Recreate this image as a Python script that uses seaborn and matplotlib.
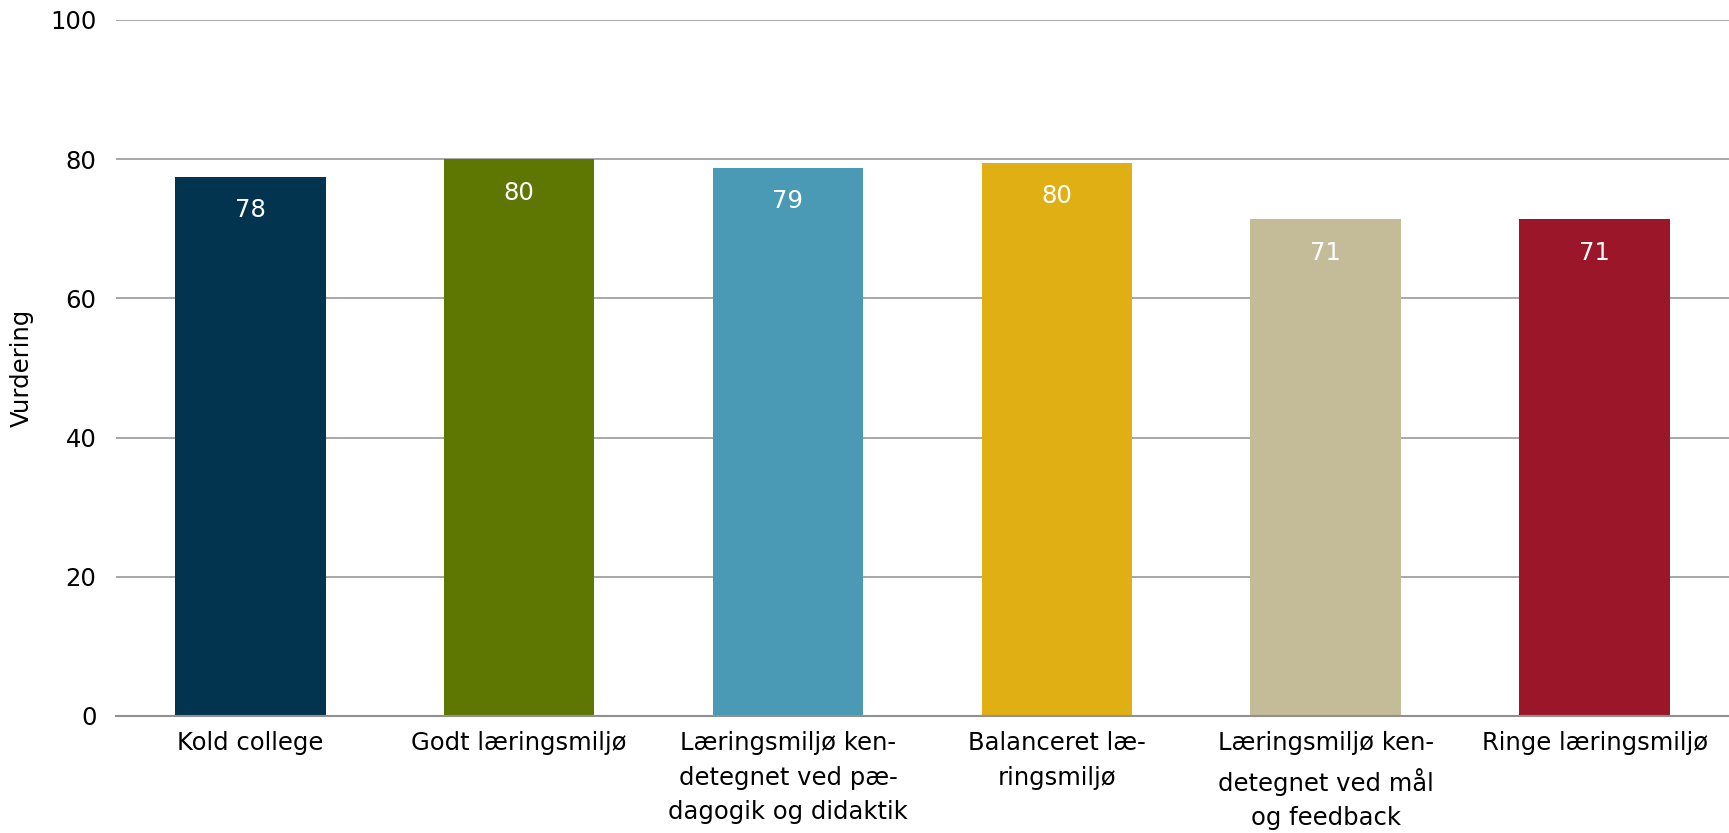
import numpy as np
import matplotlib.pyplot as plt
import seaborn as sns
import pandas as pd

# data
kategorier = ["Kold college",
              "Godt læringsmiljø",
              "Læringsmiljø ken-\ndetegnet ved pæ-\ndagogik og didaktik",
              "Balanceret læ-\nringsmiljø",
              "Læringsmiljø ken-\ndetegnet ved mål\nog feedback",
              "Ringe læringsmiljø"]
vurdering = [77.5, 80.0, 78.8, 79.5, 71.4, 71.4]
etiketter = ["78", "80", "79", "80", "71", "71"]
farver = ["#02344F", "#5E7602", "#4A9AB6", "#E0AF14", "#C4BC98", "#9A1628"]

df = pd.DataFrame({"kategori": kategorier, "vurdering": vurdering})

sns.set_style("white")
plt.rcParams['font.family'] = ['DejaVu Sans']

fs = 17.5
fig = plt.figure(figsize=(17.29, 8.33), dpi=100)
ax = fig.add_axes([0.067, 0.1405, 0.933, 0.8355])

sns.barplot(data=df, x="kategori", y="vurdering", hue="kategori",
            palette=farver, width=0.56, legend=False, ax=ax,
            saturation=1, linewidth=0)

ax.set_ylim(0, 100)
ax.set_yticks(np.arange(0, 101, 20))
ax.yaxis.grid(True, color="#A0A0A0", linewidth=1.3)
ax.set_axisbelow(True)
for s in ["top", "right", "left"]:
    ax.spines[s].set_visible(False)
ax.spines["bottom"].set_color("#909090")
ax.spines["bottom"].set_linewidth(1.5)
ax.tick_params(axis="both", length=0, labelsize=fs, labelcolor="black")
ax.tick_params(axis="x", pad=11)
ax.tick_params(axis="y", pad=14)
for t in ax.get_xticklabels():
    t.set_linespacing(1.55)

ax.set_xlabel("")
ax.set_ylabel("Vurdering", fontsize=fs, labelpad=12, color="black")

for i, c in enumerate(ax.containers):
    ax.bar_label(c, labels=[etiketter[i]], padding=-33, color="white", fontsize=fs)

plt.savefig("out.png", dpi=100)
